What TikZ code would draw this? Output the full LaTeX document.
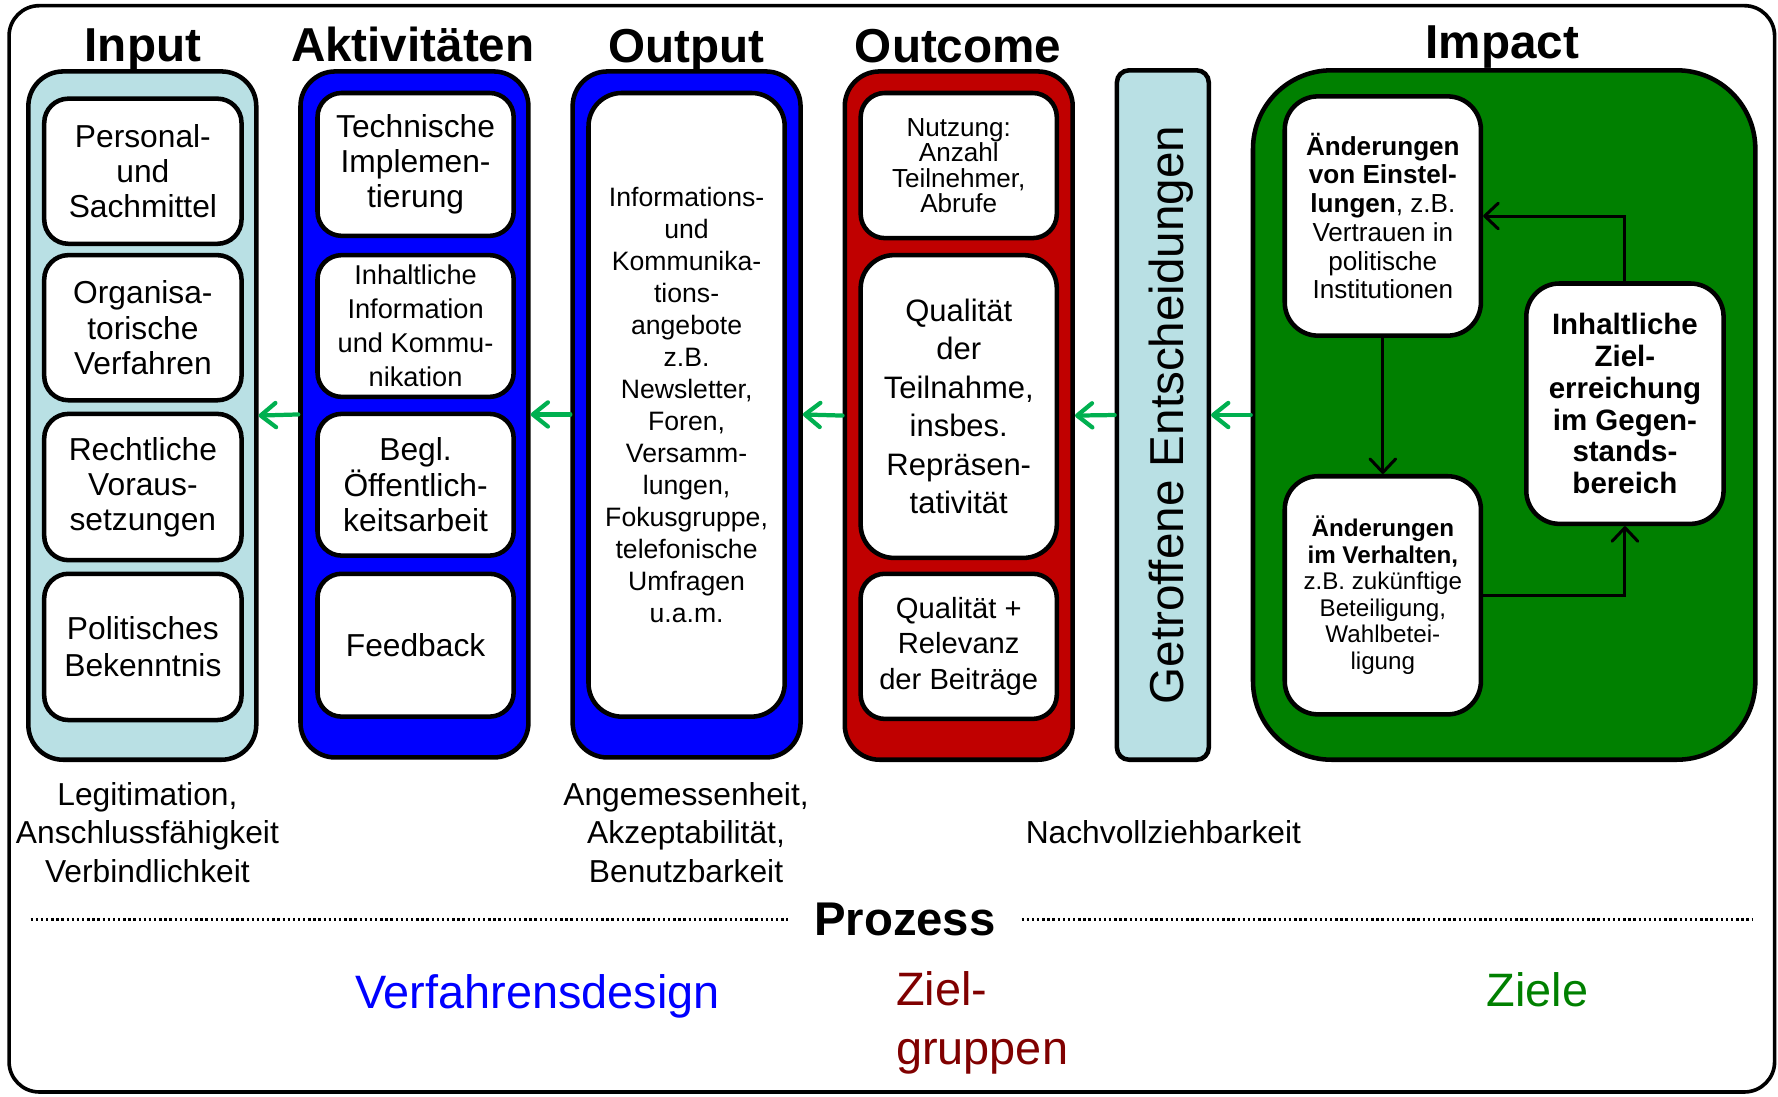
\documentclass[tikz,border=0pt]{standalone}
\usepackage{fontspec}
\setmainfont{Liberation Sans}
\usetikzlibrary{arrows.meta,fit}
\definecolor{lblue}{RGB}{185,224,228}
\definecolor{cblue}{RGB}{0,0,255}
\definecolor{cred}{RGB}{192,0,0}
\definecolor{cgreen}{RGB}{0,128,0}
\definecolor{agreen}{RGB}{0,176,80}
\definecolor{zred}{RGB}{128,0,0}
\newcommand\fsz[2]{\fontsize{#1pt}{#2pt}\selectfont}
\begin{document}
\begin{tikzpicture}[x=0.75pt,y=-0.75pt,
 colbox/.style={draw=black,line width=3pt,rounded corners=23pt,inner sep=0pt},
 wbox/.style={draw=black,fill=white,line width=3pt,rounded corners=16pt,inner sep=0pt,align=center},
 ibox/.style={draw=black,fill=white,line width=3pt,rounded corners=22pt,inner sep=0pt,align=center},
 wh/.style 2 args={minimum width=#1*0.75pt,minimum height=#2*0.75pt},
 title/.style={font=\fsz{31.5}{36}\bfseries,anchor=base,inner sep=0pt},
 garrow/.style={draw=agreen,line width=2.8pt,line cap=round,-{Straight Barb[length=10pt,width=16pt,round]}},
 karrow/.style={draw=black,line width=2pt,-{Straight Barb[length=9pt,width=17pt,round]}},
 lbl/.style={align=center,inner sep=0pt,font=\fsz{21}{25.5}},
 big/.style={inner sep=0pt,anchor=base,font=\fsz{31}{38}},
 dotline/.style={line width=2.4pt,dash pattern=on 1.6pt off 1.8pt},
]
\useasboundingbox (0,0) rectangle (1568,967);
\draw[line width=2.4pt,rounded corners=20pt] (8,5) rectangle (1565,963);

% columns
\node[colbox,fill=lblue,fit={(25,63) (226,670)}] (inCol) {};
\node[colbox,fill=cblue,fit={(265,63) (466,668)}] (akCol) {};
\node[colbox,fill=cblue,fit={(505,63) (706,668)}] (ouCol) {};
\node[colbox,fill=cred,fit={(745,63) (946,670)}] (ocCol) {};
\node[colbox,fill=lblue,rounded corners=8pt,fit={(985,62) (1066,670)}] (ge) {};
\node[colbox,fill=cgreen,rounded corners=52pt,fit={(1105,62) (1548,670)}] (im) {};

% titles
\node[title] (tIn) at (126,54) {Input};
\node[title] (tAk) at (364,54) {Aktivitäten};
\node[title] (tOu) at (605,55) {Output};
\node[title] (tOc) at (845,55) {Outcome};
\node[title] (tIm) at (1325,52) {Impact};

% input boxes
\node[wbox,wh={174}{128},font=\fsz{21}{23.25}] (in1) at (126,151) {Personal-\\und\\Sachmittel};
\node[wbox,wh={174}{128},font=\fsz{21}{23.25}] (in2) at (126,289) {Organisa-\\torische\\Verfahren};
\node[wbox,wh={174}{129},font=\fsz{21}{23.25}] (in3) at (126,429.5) {Rechtliche\\Voraus-\\setzungen};
\node[wbox,wh={174}{129},font=\fsz{21}{24.75}] (in4) at (126,570.5) {Politisches\\Bekenntnis};

% activity boxes
\node[wbox,wh={173}{126},font=\fsz{21}{23.25}] (ak1) at (366.5,145) {Technische\\Implemen-\\tierung};
\node[wbox,wh={173}{125},font=\fsz{18}{22.5}] (ak2) at (366.5,287.5) {Inhaltliche\\Information\\und Kommu-\\nikation};
\node[wbox,wh={173}{125},font=\fsz{21}{23.25}] (ak3) at (366.5,427.5) {Begl.\\Öffentlich-\\keitsarbeit};
\node[wbox,wh={173}{126},font=\fsz{21}{23.25}] (ak4) at (366.5,569) {Feedback};

% output box
\node[wbox,rounded corners=22pt,wh={173}{550},font=\fsz{17.6}{21.15}] (ou1) at (605.5,357) {Informations-\\und\\Kommunika-\\tions-\\angebote\\z.B.\\Newsletter,\\Foren,\\Versamm-\\lungen,\\Fokusgruppe,\\telefonische\\Umfragen\\u.a.m.};

% outcome boxes
\node[wbox,wh={173}{128},font=\fsz{17.25}{16.9}] (oc1) at (845.5,146) {Nutzung:\\Anzahl\\Teilnehmer,\\Abrufe};
\node[wbox,rounded corners=22pt,wh={173}{267},font=\fsz{20.5}{25.5}] (oc2) at (845.5,358.5) {Qualität\\der\\Teilnahme,\\insbes.\\Repräsen-\\tativität};
\node[wbox,wh={173}{128},font=\fsz{19.3}{23.25}] (oc3) at (845.5,570) {Qualität +\\Relevanz\\der Beiträge};

% decisions
\node[rotate=90,anchor=base,inner sep=0pt,font=\fsz{31.5}{36}] (geT) at (1044,366) {Getroffene Entscheidungen};

% impact boxes
\node[ibox,wh={173}{211},font=\fsz{17.25}{19}] (iA) at (1219.5,190.5) {\textbf{Änderungen}\\\textbf{von Einstel-}\\\textbf{lungen}, z.B.\\Vertrauen in\\politische\\Institutionen};
\node[ibox,wh={173}{210},font=\fsz{16}{17.5}] (iB) at (1219.5,525) {\textbf{Änderungen}\\\textbf{im Verhalten,}\\z.B. zukünftige\\Beteiligung,\\Wahlbetei-\\ligung};
\node[ibox,wh={174}{212},font=\fsz{19.5}{21}\bfseries] (iC) at (1433,356) {Inhaltliche\\Ziel-\\erreichung\\im Gegen-\\stands-\\bereich};

% impact arrows
\draw[karrow] (iA.south) -- (iB.north);
\draw[karrow] (iC.north) |- (iA.east);
\draw[karrow] (iB.east) -| (iC.south);

% green arrows
\draw[garrow] (akCol.west) -- (inCol.east);
\draw[garrow] (ouCol.west) -- (akCol.east);
\draw[garrow] (ocCol.west) -- (ouCol.east);
\draw[garrow] (ge.west) -- (ocCol.east);
\draw[garrow] (im.west) -- (ge.east);

% bottom labels
\node[lbl] (l1) at (130,734) {Legitimation,\\Anschlussfähigkeit\\Verbindlichkeit};
\node[lbl] (l2) at (605,734) {Angemessenheit,\\Akzeptabilität,\\Benutzbarkeit};
\node[lbl] (l3) at (1026,734) {Nachvollziehbarkeit};

\node[inner ysep=0pt,inner xsep=17pt,font=\fsz{31.3}{36}\bfseries] (proz) at (798,811) {Prozess};
\coordinate (dL) at (27,811);
\coordinate (dR) at (1545,811);
\draw[dotline] (dL) -- (proz.west);
\draw[dotline] (proz.east) -- (dR);

\node[big,text=cblue] (vd) at (474,889) {Verfahrensdesign};
\node[big,text=zred,anchor=base west,align=left] (zg) at (790,939) {Ziel-\\[1pt]gruppen};
\node[big,text=cgreen] (zi) at (1356,888) {Ziele};
\end{tikzpicture}
\end{document}
